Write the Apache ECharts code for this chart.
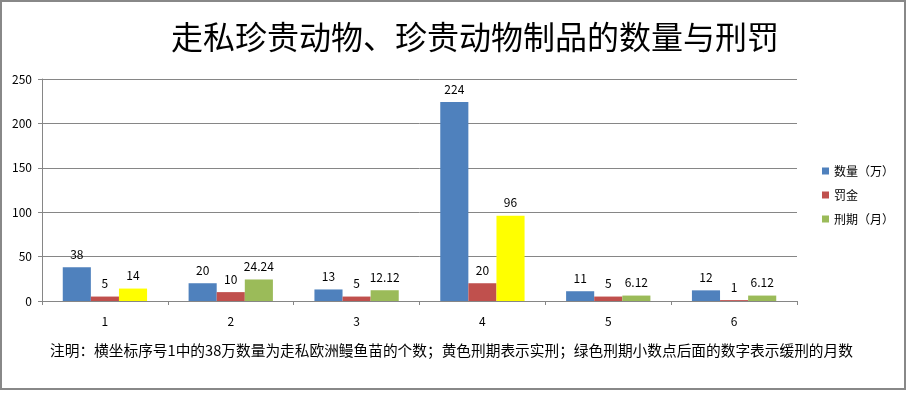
<!DOCTYPE html>
<html><head><meta charset="utf-8">
<script src="https://cdn.jsdelivr.net/npm/echarts@6/dist/echarts.min.js"></script>
<style>html,body{margin:0;padding:0;background:#fff}#c{width:912px;height:393px}</style>
</head><body><div id="c"></div>
<script>
var titleText = '走私珍贵动物、珍贵动物制品的数量与刑罚';
var noteText = '注明：横坐标序号1中的38万数量为走私欧洲鳗鱼苗的个数；黄色刑期表示实刑；绿色刑期小数点后面的数字表示缓刑的月数';
var categories = ['1','2','3','4','5','6'];
var seriesNames = ['数量（万）','罚金','刑期（月）'];
var quantity = [38, 20, 13, 224, 11, 12];
var fine = [5, 10, 5, 20, 5, 1];
var sentence = [14, 24.24, 12.12, 96, 6.12, 6.12];
var actualSentence = [true, false, false, true, false, false];
var yTicks = [0, 50, 100, 150, 200, 250];

var FONT = '"Noto Sans CJK SC", sans-serif';
var colors = ['#4F81BD', '#C0504D', '#9BBB59'];
var yellow = '#FFFF00';

var chart = echarts.init(document.getElementById('c'));
var lbl = {show: true, position: 'top', distance: 7, color: '#000', fontSize: 12, fontFamily: FONT};
chart.setOption({
  animation: false,
  backgroundColor: '#fff',
  title: {text: titleText, left: 470, textAlign: 'center', top: 16,
    textStyle: {fontFamily: FONT, fontSize: 32, fontWeight: 'normal', color: '#000'}},
  legend: {orient: 'vertical', left: 817, top: 160, itemWidth: 7, itemHeight: 7, itemGap: 12,
    icon: 'rect', textStyle: {fontFamily: FONT, fontSize: 12, color: '#000'},
    data: seriesNames.map(function(n, i){ return {name: n, itemStyle: {color: colors[i]}}; })},
  grid: {left: 42, right: 115, top: 79, bottom: 92},
  xAxis: {type: 'category', data: categories,
    axisLine: {lineStyle: {color: '#868686', width: 1}},
    axisTick: {show: true, length: 4, lineStyle: {color: '#868686'}},
    axisLabel: {color: '#000', fontSize: 12, fontFamily: FONT, margin: 14}},
  yAxis: {type: 'value', min: yTicks[0], max: yTicks[yTicks.length-1], interval: 50,
    axisLine: {show: true, lineStyle: {color: '#868686'}},
    axisTick: {show: true, length: 4, lineStyle: {color: '#868686'}},
    splitLine: {lineStyle: {color: '#868686', width: 1}},
    axisLabel: {color: '#000', fontSize: 12, fontFamily: FONT, margin: 10}},
  series: [
    {name: seriesNames[0], type: 'bar', data: quantity, barGap: '0%', barCategoryGap: '33%',
      itemStyle: {color: colors[0]}, label: lbl},
    {name: seriesNames[1], type: 'bar', data: fine, itemStyle: {color: colors[1]}, label: lbl},
    {name: seriesNames[2], type: 'bar',
      data: sentence.map(function(v, i){ return actualSentence[i] ? {value: v, itemStyle: {color: yellow}} : v; }),
      itemStyle: {color: colors[2]}, label: lbl}
  ],
  graphic: [
    {type: 'rect', shape: {x: 1, y: 1, width: 904, height: 388}, silent: true,
      style: {fill: 'none', stroke: '#888', lineWidth: 2}},
    {type: 'text', left: 50, top: 343, silent: true,
      style: {text: noteText, fontFamily: FONT, fontSize: 14.7, fill: '#000'}}
  ]
});
</script></body></html>
